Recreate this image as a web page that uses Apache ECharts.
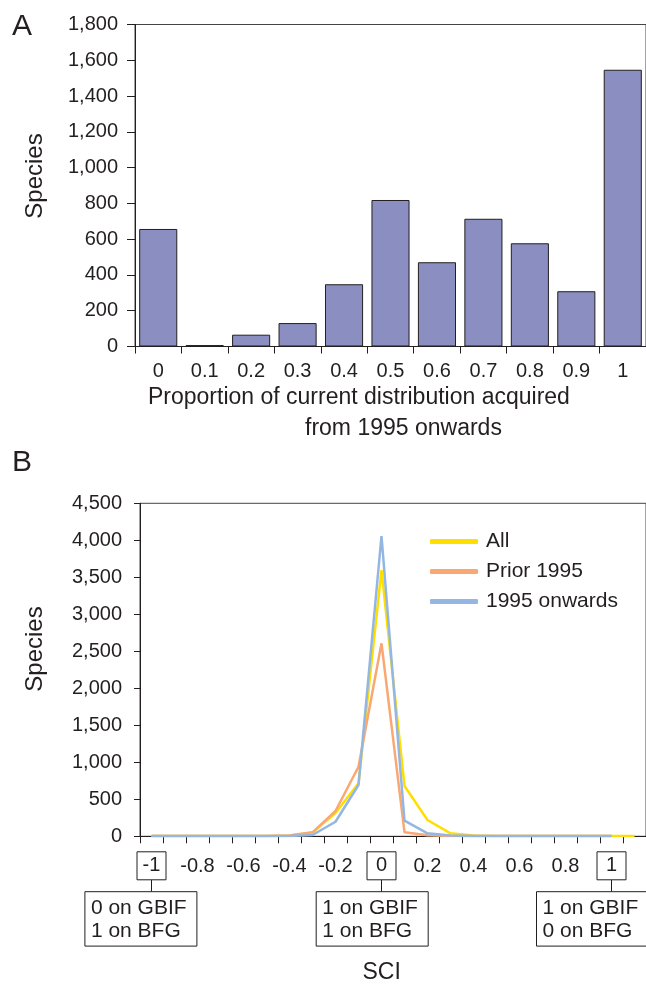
<!DOCTYPE html>
<html><head><meta charset="utf-8">
<script src="https://cdn.jsdelivr.net/npm/echarts@6/dist/echarts.min.js"></script>
<style>html,body{margin:0;padding:0;background:#fff}#c{width:646px;height:984px}</style>
</head><body><div id="c"></div>
<script>
// ---- Data ----
const proportionCategories = ['0','0.1','0.2','0.3','0.4','0.5','0.6','0.7','0.8','0.9','1'];
const proportionSpecies = [657, 8, 66, 131, 348, 819, 471, 714, 577, 309, 1547];

const sciCategories = ['-1','-0.9','-0.8','-0.7','-0.6','-0.5','-0.4','-0.3','-0.2','-0.1','0',
                       '0.1','0.2','0.3','0.4','0.5','0.6','0.7','0.8','0.9','1','1.1'];
const sciAll        = [5,5,5,5,5,5,10,50,315,716,3598,680,220,40,10,5,5,5,5,5,5,5];
const sciPrior1995  = [5,5,5,5,5,5,10,54,342,940,2608,54,15,5,5,5,5,5,5,5,5,null];
const sciOnwards    = [5,5,5,5,5,5,5,17,197,693,4058,211,40,10,5,5,5,5,5,5,5,null];
const seriesNames   = ['All','Prior 1995','1995 onwards'];
const boxedTicks    = ['-1','0','1'];
const boxNotes      = ['0 on GBIF\n1 on BFG','1 on GBIF\n1 on BFG','1 on GBIF\n0 on BFG'];

// ---- Style ----
const FONT = "'Liberation Sans', Arial, sans-serif";
const INK = '#231f20';
const fmt = v => v.toLocaleString('en-US');

const chart = echarts.init(document.getElementById('c'), null, {renderer: 'canvas'});

const option = {
  animation: false,
  backgroundColor: '#fff',
  textStyle: {fontFamily: FONT, color: INK},
  grid: [
    {left: 135, top: 24.5, width: 512, height: 322, show: true, borderColor: '#444', borderWidth: 1, backgroundColor: 'transparent'},
    {left: 140, top: 503.3, width: 508, height: 333, show: true, borderColor: '#444', borderWidth: 1, backgroundColor: 'transparent'}
  ],
  xAxis: [
    {
      type: 'category', gridIndex: 0, data: proportionCategories, boundaryGap: true,
      axisLine: {lineStyle: {color: INK, width: 1}},
      axisTick: {show: true, length: 7, lineStyle: {color: INK}, interval: 0},
      axisLabel: {fontSize: 20, color: INK, fontFamily: FONT, margin: 15, interval: 0}
    },
    {
      type: 'category', gridIndex: 1, data: sciCategories, boundaryGap: true,
      axisLine: {lineStyle: {color: INK, width: 1}},
      axisTick: {show: true, length: 7, lineStyle: {color: INK}, interval: 0},
      axisLabel: {
        interval: 1, margin: 15.5, color: INK, fontFamily: FONT, fontSize: 20,
        formatter: v => boxedTicks.includes(v) ? '{box|' + v + '}' : '{n|' + v + '}',
        rich: {
          box: {fontSize: 20, fontFamily: FONT, color: INK, width: 29, height: 28, lineHeight: 28, align: 'center',
                borderColor: INK, borderWidth: 1},
          n: {fontSize: 20, fontFamily: FONT, color: INK, height: 29, lineHeight: 29}
        }
      }
    }
  ],
  yAxis: [
    {
      type: 'value', gridIndex: 0, min: 0, max: 1800, interval: 200,
      axisLine: {show: true, lineStyle: {color: INK, width: 1}},
      axisTick: {show: true, length: 8, lineStyle: {color: INK}},
      splitLine: {show: false},
      axisLabel: {fontSize: 20, color: INK, fontFamily: FONT, margin: 17, formatter: fmt}
    },
    {
      type: 'value', gridIndex: 1, min: 0, max: 4500, interval: 500,
      axisLine: {show: true, lineStyle: {color: INK, width: 1}},
      axisTick: {show: true, length: 6, lineStyle: {color: INK}},
      splitLine: {show: false},
      axisLabel: {fontSize: 20, color: INK, fontFamily: FONT, margin: 18, formatter: fmt}
    }
  ],
  legend: {
    orient: 'vertical', left: 425, top: 526, itemWidth: 48, itemHeight: 5, itemGap: 9,
    icon: 'roundRect',
    data: seriesNames,
    textStyle: {fontSize: 21, color: INK, fontFamily: FONT, padding: [0, 0, 0, 3]}
  },
  series: [
    {
      type: 'bar', xAxisIndex: 0, yAxisIndex: 0, data: proportionSpecies,
      barCategoryGap: '18%',
      itemStyle: {color: '#8a8ec0', borderColor: INK, borderWidth: 1}
    },
    {name: seriesNames[0], type: 'line', xAxisIndex: 1, yAxisIndex: 1, data: sciAll, symbol: 'none',
     lineStyle: {color: '#ffdf00', width: 2.5}, itemStyle: {color: '#ffdf00'}},
    {name: seriesNames[1], type: 'line', xAxisIndex: 1, yAxisIndex: 1, data: sciPrior1995, symbol: 'none',
     lineStyle: {color: '#f9a874', width: 2.5}, itemStyle: {color: '#f9a874'}},
    {name: seriesNames[2], type: 'line', xAxisIndex: 1, yAxisIndex: 1, data: sciOnwards, symbol: 'none',
     lineStyle: {color: '#93b6e2', width: 2.5}, itemStyle: {color: '#93b6e2'}}
  ]
};
chart.setOption(option);

// ---- Titles and annotation boxes ----
const txt = (text, x, y, size, extra) => Object.assign({
  type: 'text', x: x, y: y,
  style: Object.assign({text: text, font: size + 'px ' + FONT, fill: INK, verticalAlign: 'middle'}, extra || {})
});

const graphics = [
  txt('A', 12, 27, 30),
  txt('B', 12, 463, 30),
  Object.assign(txt('Species', 35, 176, 24, {align: 'center'}), {rotation: Math.PI / 2}),
  Object.assign(txt('Species', 35, 649, 24, {align: 'center'}), {rotation: Math.PI / 2}),
  txt('Proportion of current distribution acquired', 148, 398, 23),
  txt('from 1995 onwards', 305, 429, 23),
  txt('SCI', 381.7, 973, 23, {align: 'center'})
];

const axisY = chart.convertToPixel({yAxisIndex: 1}, 0);
const boxLeftOffsets = [-66.6, -65.3, -75];
boxedTicks.forEach((t, i) => {
  const cx = chart.convertToPixel({xAxisIndex: 1}, t);
  const bx = cx + boxLeftOffsets[i];
  graphics.push({type: 'line', shape: {x1: cx, y1: axisY + 43.7, x2: cx, y2: axisY + 55.4},
                 style: {stroke: INK, lineWidth: 1}});
  graphics.push({type: 'rect', shape: {x: bx, y: axisY + 55.4, width: 112, height: 54.4},
                 style: {fill: '#fff', stroke: INK, lineWidth: 1}});
  graphics.push(txt(boxNotes[i], bx + 6, axisY + 83.5, 21, {lineHeight: 22.5}));
});
chart.setOption({graphic: graphics});
</script>
</body></html>
